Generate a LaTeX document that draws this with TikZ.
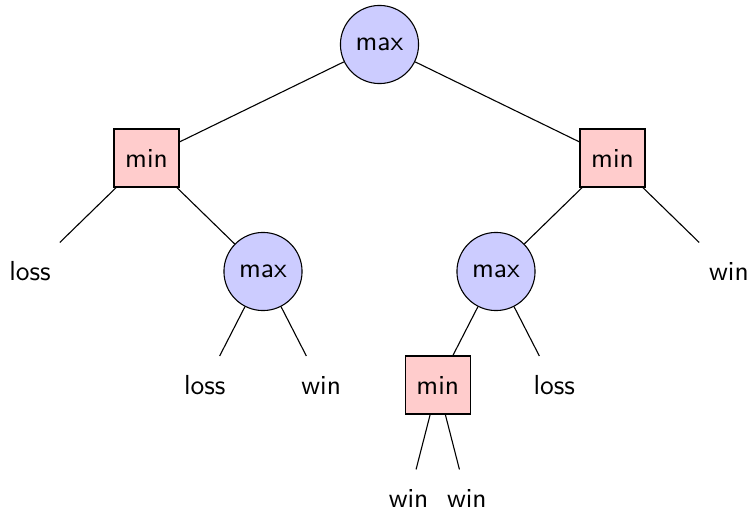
\documentclass[tikz,border=0pt]{standalone}
\begin{document}
\begin{tikzpicture}[x=0.3636pt,y=-0.3636pt, font=\sffamily,
  maxnode/.style={circle,draw,fill=blue!20,minimum size=28.4pt,inner sep=0pt},
  minnode/.style={rectangle,draw,fill=red!20,minimum width=23.6pt,minimum height=21.1pt,inner sep=0pt},
  leafnode/.style={rectangle,minimum width=23.6pt,minimum height=21.1pt,inner sep=0pt,outer sep=0pt},
  edgeline/.style={draw,line width=0.4pt}]
\useasboundingbox (0,0) rectangle (752,512);
\node[maxnode] (root) at (379.5,44.5) {max};
\node[minnode] (mL) at (146.5,158) {min};
\node[minnode] (mR) at (612.5,158) {min};
\node[leafnode] (l1) at (30,271.5) {loss};
\node[maxnode] (xL) at (263,271.5) {max};
\node[maxnode] (xR) at (496,271.5) {max};
\node[leafnode] (w1) at (729,271.5) {win};
\node[leafnode] (l2) at (204.75,385) {loss};
\node[leafnode] (w2) at (321.25,385) {win};
\node[minnode] (mB) at (437.75,385) {min};
\node[leafnode] (l3) at (554.25,385) {loss};
\node[leafnode] (w3) at (408.6,498.5) {win};
\node[leafnode] (w4) at (466.9,498.5) {win};
\path[edgeline] (root) -- (mL);
\path[edgeline] (root) -- (mR);
\path[edgeline] (mL) -- (l1);
\path[edgeline] (mL) -- (xL);
\path[edgeline] (mR) -- (xR);
\path[edgeline] (mR) -- (w1);
\path[edgeline] (xL) -- (l2);
\path[edgeline] (xL) -- (w2);
\path[edgeline] (xR) -- (mB);
\path[edgeline] (xR) -- (l3);
\path[edgeline] (mB) -- (w3);
\path[edgeline] (mB) -- (w4);
\end{tikzpicture}
\end{document}
